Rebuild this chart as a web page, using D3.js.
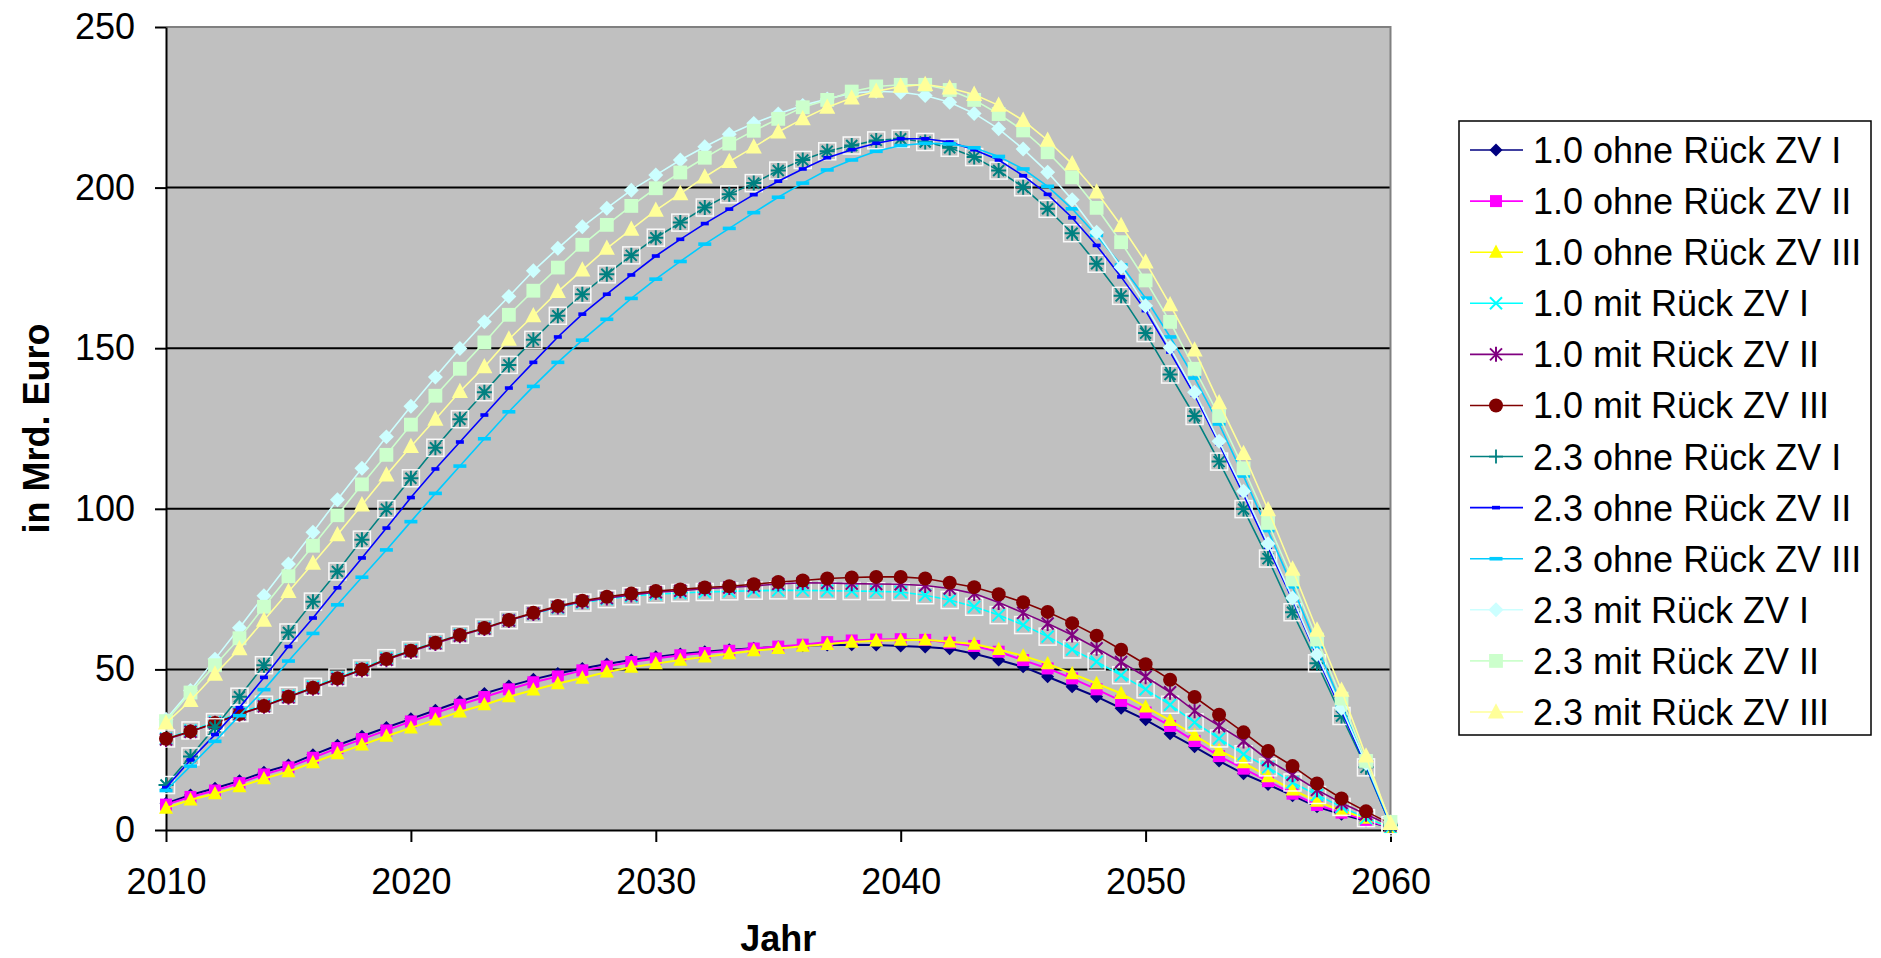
<!DOCTYPE html>
<html>
<head>
<meta charset="utf-8">
<script src="https://d3js.org/d3.v7.min.js"></script>
<style>
  body { margin: 0; background: #fff; }
  text { font-family: "Liberation Sans", Arial, sans-serif; }
  .axis path, .axis line { stroke: #000; stroke-width: 2px; }
  .axis text { font-size: 36px; fill: #000; }
</style>
</head>
<body>
<script>
// categories
const years = [2010, 2011, 2012, 2013, 2014, 2015, 2016, 2017, 2018, 2019,
  2020, 2021, 2022, 2023, 2024, 2025, 2026, 2027, 2028, 2029,
  2030, 2031, 2032, 2033, 2034, 2035, 2036, 2037, 2038, 2039,
  2040, 2041, 2042, 2043, 2044, 2045, 2046, 2047, 2048, 2049,
  2050, 2051, 2052, 2053, 2054, 2055, 2056, 2057, 2058, 2059, 2060];

// series values (Mrd. Euro)
const ohne10_I = [8.3, 10.9, 13, 15.3, 18, 20.2, 23.4, 26.4, 29.2, 31.9,
  34.6, 37.3, 40, 42.5, 44.8, 46.9, 48.7, 50.3, 51.7, 52.9,
  53.9, 54.8, 55.5, 56.1, 56.6, 57, 57.4, 57.6, 57.7, 57.6,
  57.3, 57, 56.4, 54.9, 52.9, 50.8, 47.7, 44.6, 41.5, 37.9,
  34.3, 30, 25.9, 21.5, 17.5, 14.2, 10.7, 7.2, 4.9, 2.8, 0.8];
const ohne10_II = [7.9, 10.3, 12.3, 14.6, 17.3, 19.5, 22.5, 25.5, 28.3, 31,
  33.8, 36.4, 39, 41.4, 43.8, 46, 47.8, 49.7, 50.9, 52.3,
  53.4, 54.4, 55.1, 55.8, 56.5, 57.1, 57.7, 58.5, 59, 59.3,
  59.4, 59.2, 58.3, 57.3, 55.5, 52.9, 50.3, 47.2, 43.8, 40.2,
  36.6, 32.4, 27.7, 23, 19.1, 15.2, 11.3, 7.8, 5.4, 3.1, 0.8];
const ohne10_III = [6.8, 9.4, 11.3, 13.5, 16, 18.2, 21, 23.8, 26.5, 29.2,
  31.8, 34.3, 36.8, 39, 41.5, 43.6, 45.6, 47.3, 49.2, 50.7,
  51.8, 52.9, 53.9, 54.9, 55.8, 56.5, 57.2, 57.8, 58.5, 58.9,
  59.1, 59.2, 58.6, 57.9, 56.2, 54.2, 51.8, 48.7, 45.6, 42.5,
  38.3, 34.1, 29.5, 24.8, 21, 16.6, 12.5, 9, 6, 3.7, 0.8];
const mit10_I = [28.5, 31, 33.6, 36.4, 39, 41.8, 44.6, 47.5, 50.3, 53.5,
  56, 58.4, 60.8, 63, 65.3, 67.3, 69.2, 70.8, 71.9, 72.8,
  73.4, 73.8, 74.1, 74.3, 74.5, 74.6, 74.6, 74.5, 74.4, 74.3,
  74.1, 73.1, 71.6, 69.5, 66.9, 63.8, 60.2, 56.2, 52.4, 48.2,
  43.8, 39, 33.5, 28.5, 23.6, 19.5, 14.8, 10.9, 7.2, 3.7, 0.8];
const mit10_II = [28.2, 30.6, 33.2, 36, 38.5, 41.3, 44.1, 47, 49.8, 53,
  55.6, 58.1, 60.5, 62.7, 65.2, 67.4, 69.4, 71.1, 72.2, 73.2,
  74, 74.5, 75.1, 75.5, 76, 76.6, 77, 76.9, 76.7, 76.6,
  76.5, 76.1, 75.2, 73.6, 70.8, 67.6, 64.3, 60.7, 56.6, 52.3,
  47.7, 42.9, 37.1, 32.4, 27.7, 21.8, 17.2, 12.5, 8.4, 4.9, 1.4];
const mit10_III = [28.4, 30.7, 33.3, 36.1, 38.6, 41.5, 44.3, 47.2, 50, 53.2,
  55.8, 58.3, 60.7, 62.9, 65.4, 67.6, 69.7, 71.4, 72.6, 73.6,
  74.4, 74.9, 75.5, 75.9, 76.5, 77.2, 77.7, 78.3, 78.6, 78.8,
  78.8, 78.3, 77, 75.6, 73.4, 70.9, 67.9, 64.4, 60.5, 56.1,
  51.6, 46.8, 41.4, 35.9, 30.4, 24.6, 19.9, 14.5, 9.8, 5.8, 1.9];
const ohne23_I = [14, 22.9, 32, 41.5, 51.3, 61.5, 71.1, 80.5, 90.4, 99.9,
  109.5, 119, 127.9, 136.3, 144.8, 152.6, 160.1, 166.8, 173, 178.9,
  184.4, 189.1, 193.8, 197.9, 201.4, 205.3, 208.6, 211.3, 213.1, 214.7,
  215.2, 214.2, 212.4, 209.5, 205.3, 200.1, 193.4, 185.8, 176.3, 166.3,
  154.7, 141.8, 128.9, 114.7, 99.9, 84.5, 67.8, 51.9, 35.5, 19.5, 1.5];
const ohne23_II = [13.2, 21.8, 29.7, 38.1, 47.5, 57.1, 66, 75.4, 84.7, 94,
  103.5, 112.4, 120.8, 129.2, 137.6, 145.6, 153.5, 160.6, 166.8, 172.8,
  178.7, 183.9, 188.8, 193.3, 197.8, 202, 205.8, 209.3, 211.8, 213.8,
  215.2, 215.2, 214.2, 211.8, 208.6, 203.7, 197.9, 190.6, 182, 172.2,
  161.7, 148.8, 135.4, 120.2, 104.4, 88, 71.6, 54, 37, 20, 1.5];
const ohne23_III = [12.3, 19.9, 27.6, 35.6, 43.7, 52.6, 61.2, 70.1, 78.7, 87.2,
  96, 104.8, 113.3, 121.8, 130.2, 138.1, 145.6, 152.5, 159, 165.5,
  171.5, 177, 182.4, 187.3, 192.2, 197, 201.4, 205.5, 208.6, 211.3,
  213.1, 213.8, 213.6, 212.4, 209.7, 205.8, 200.4, 193.4, 185.1, 175.9,
  165.6, 153.5, 140.7, 126.4, 110.2, 93.2, 75.7, 57, 39, 20.5, 1.8];
const mit23_I = [34.5, 43.4, 53.2, 63, 72.9, 82.8, 92.7, 102.8, 112.6, 122.4,
  131.9, 141, 149.9, 158.2, 166.1, 174.1, 181.1, 187.8, 193.6, 199.2,
  203.9, 208.6, 212.7, 216.6, 220, 222.9, 225.6, 227.6, 229.4, 230,
  229.7, 228.7, 226.6, 223.1, 218.3, 212, 204.8, 196.2, 186.1, 175.2,
  163.2, 150.2, 136.3, 121, 105.5, 89.1, 72.2, 54.6, 37.9, 20.7, 2.5];
const mit23_II = [33.9, 42.8, 51.3, 59.7, 69.5, 79, 88.5, 98, 107.6, 116.8,
  126.2, 135.2, 143.6, 151.8, 160.4, 167.9, 175.1, 182.2, 188.4, 194.3,
  199.8, 204.7, 209.3, 213.7, 217.7, 221.4, 225, 227.3, 229.9, 231.5,
  232, 232, 230.4, 227.3, 222.9, 217.8, 211, 203.2, 193.7, 183,
  171.1, 158.2, 143.6, 128.9, 112.6, 95.6, 78, 59.3, 40.9, 21.5, 2.5];
const mit23_III = [33.3, 40.3, 48.5, 56.4, 65.3, 74.2, 83, 91.9, 101.2, 110.5,
  119.4, 127.9, 136.5, 144.2, 152.8, 160.1, 167.6, 174.3, 181.1, 187,
  192.9, 198.1, 203.3, 208.1, 212.6, 217.3, 221.4, 225, 227.9, 230,
  231.5, 232.1, 231, 229, 225.6, 220.9, 214.7, 207.4, 198.6, 188.2,
  176.8, 163.5, 149.4, 133, 117.2, 99.7, 81.2, 62.2, 43.5, 23, 2];

const seriesNames = ["1.0 ohne Rück ZV I", "1.0 ohne Rück ZV II", "1.0 ohne Rück ZV III",
  "1.0 mit Rück ZV I", "1.0 mit Rück ZV II", "1.0 mit Rück ZV III",
  "2.3 ohne Rück ZV I", "2.3 ohne Rück ZV II", "2.3 ohne Rück ZV III",
  "2.3 mit Rück ZV I", "2.3 mit Rück ZV II", "2.3 mit Rück ZV III"];
const seriesValues = [ohne10_I, ohne10_II, ohne10_III, mit10_I, mit10_II, mit10_III,
  ohne23_I, ohne23_II, ohne23_III, mit23_I, mit23_II, mit23_III];
const seriesColors = ["#000080", "#FF00FF", "#FFFF00", "#00FFFF", "#800080", "#800000",
  "#008080", "#0000FF", "#00CCFF", "#CCFFFF", "#CCFFCC", "#FFFF99"];
const seriesMarkers = ["diamond", "square", "triangle", "x", "star", "circle",
  "plus", "dash", "longdash", "diamond", "square", "triangle"];
const seriesBoxed = [false, false, false, true, false, false, true, false, false, false, false, false];

const yTicks = [0, 50, 100, 150, 200, 250];
const xTicks = [2010, 2020, 2030, 2040, 2050, 2060];

const W = 1881, H = 958;
const plotL = 166, plotR = 1390.5, plotT = 27, plotB = 830;

const svg = d3.select("body").append("svg")
  .attr("width", W)
  .attr("height", H);

const x = d3.scaleLinear().domain([2010, 2060]).range([plotL, plotR]);
const y = d3.scaleLinear().domain([0, 250]).range([plotB, plotT]);

// plot area
svg.append("rect")
  .attr("x", plotL).attr("y", plotT)
  .attr("width", plotR - plotL).attr("height", plotB - plotT)
  .attr("fill", "#C0C0C0");

// gridlines
svg.append("g")
  .selectAll("line")
  .data(yTicks.filter(d => d > 0 && d < 250))
  .join("line")
  .attr("x1", plotL).attr("x2", plotR)
  .attr("y1", d => y(d)).attr("y2", d => y(d))
  .attr("stroke", "#000").attr("stroke-width", 2);

// top and right border (grey)
svg.append("path")
  .attr("d", `M${plotL},${y(250)}H${plotR}V${plotB}`)
  .attr("fill", "none").attr("stroke", "#808080").attr("stroke-width", 2);

// axes
svg.append("g")
  .attr("class", "axis")
  .attr("transform", `translate(${plotL},0)`)
  .call(d3.axisLeft(y).tickValues(yTicks).tickSize(11).tickSizeOuter(0).tickPadding(20));

svg.append("g")
  .attr("class", "axis")
  .attr("transform", `translate(0,${plotB})`)
  .call(d3.axisBottom(x).tickValues(xTicks).tickFormat(d3.format("d"))
    .tickSize(12).tickSizeOuter(0).tickPadding(26));

// axis titles
svg.append("text")
  .text("Jahr")
  .attr("x", (plotL + plotR) / 2)
  .attr("y", 951)
  .attr("text-anchor", "middle")
  .style("font-size", "36px").style("font-weight", "bold");

svg.append("text")
  .text("in Mrd. Euro")
  .attr("transform", `translate(49,${(plotT + plotB) / 2}) rotate(-90)`)
  .attr("text-anchor", "middle")
  .style("font-size", "36px").style("font-weight", "bold");

// marker drawing
function marker(g, type, color, big) {
  const k = big ? 1.15 : 1;
  if (type === "diamond") {
    const s = 6.5 * k;
    g.append("path").attr("d", `M0,${-s}L${s},0L0,${s}L${-s},0Z`).attr("fill", color);
  } else if (type === "square") {
    const s = 6 * k;
    g.append("rect").attr("x", -s).attr("y", -s).attr("width", 2 * s).attr("height", 2 * s).attr("fill", color);
  } else if (type === "triangle") {
    const s = 7 * k;
    g.append("path").attr("d", `M0,${-s * 1.1}L${s},${s * 0.8}L${-s},${s * 0.8}Z`).attr("fill", color);
  } else if (type === "circle") {
    g.append("circle").attr("r", 7).attr("fill", color);
  } else if (type === "x") {
    g.append("path").attr("d", "M-6,-6L6,6M-6,6L6,-6")
      .attr("stroke", color).attr("stroke-width", 2).attr("fill", "none");
  } else if (type === "star") {
    g.append("path").attr("d", "M-6,-6L6,6M-6,6L6,-6M0,-7.5L0,7.5")
      .attr("stroke", color).attr("stroke-width", 2).attr("fill", "none");
  } else if (type === "plus") {
    g.append("path").attr("d", "M-7.5,0L7.5,0M0,-7.5L0,7.5M-5.5,-5.5L5.5,5.5M-5.5,5.5L5.5,-5.5")
      .attr("stroke", color).attr("stroke-width", 2).attr("fill", "none");
  } else if (type === "plusOnly") {
    g.append("path").attr("d", "M-7,0L7,0M0,-7L0,7")
      .attr("stroke", color).attr("stroke-width", 1.8).attr("fill", "none");
  } else if (type === "dash") {
    g.append("rect").attr("x", -4).attr("y", -1.8).attr("width", 8).attr("height", 3.6).attr("fill", color);
  } else if (type === "longdash") {
    g.append("rect").attr("x", -6.5).attr("y", -1.8).attr("width", 13).attr("height", 3.6).attr("fill", color);
  }
}

const line = d3.line()
  .x((d, i) => x(years[i]))
  .y(d => y(d));

const plot = svg.append("g");
seriesValues.forEach((vals, si) => {
  const g = plot.append("g");
  g.append("path")
    .datum(vals)
    .attr("d", line)
    .attr("fill", "none")
    .attr("stroke", seriesColors[si])
    .attr("stroke-width", si < 3 ? 2 : 1.6);
  g.selectAll("g.pt")
    .data(vals)
    .join("g")
    .attr("class", "pt")
    .attr("transform", (d, i) => `translate(${x(years[i])},${y(d)})`)
    .each(function () {
      const m = d3.select(this);
      if (seriesBoxed[si]) {
        m.append("rect").attr("x", -8.5).attr("y", -8.5).attr("width", 17).attr("height", 17)
          .attr("fill", "none").attr("stroke", "#fff").attr("stroke-width", 1.5).attr("opacity", 0.9);
      }
      marker(m, seriesMarkers[si], seriesColors[si], si >= 9);
    });
});

// legend
const lg = svg.append("g");
lg.append("rect")
  .attr("x", 1459).attr("y", 121)
  .attr("width", 412).attr("height", 614)
  .attr("fill", "#fff").attr("stroke", "#000").attr("stroke-width", 1.5);

const ly = d3.scaleLinear().domain([0, 11]).range([150, 712]);
seriesNames.forEach((name, i) => {
  const row = lg.append("g").attr("transform", `translate(0,${ly(i)})`);
  row.append("line")
    .attr("x1", 1470).attr("x2", 1523).attr("y1", 0).attr("y2", 0)
    .attr("stroke", seriesColors[i]).attr("stroke-width", 1.6);
  const m = row.append("g").attr("transform", "translate(1496,0)");
  marker(m, seriesMarkers[i] === "plus" ? "plusOnly" : seriesMarkers[i], seriesColors[i], i >= 9);
  row.append("text")
    .text(name)
    .attr("x", 1533).attr("y", 13)
    .style("font-size", "36px").attr("fill", "#000");
});
</script>
</body>
</html>
